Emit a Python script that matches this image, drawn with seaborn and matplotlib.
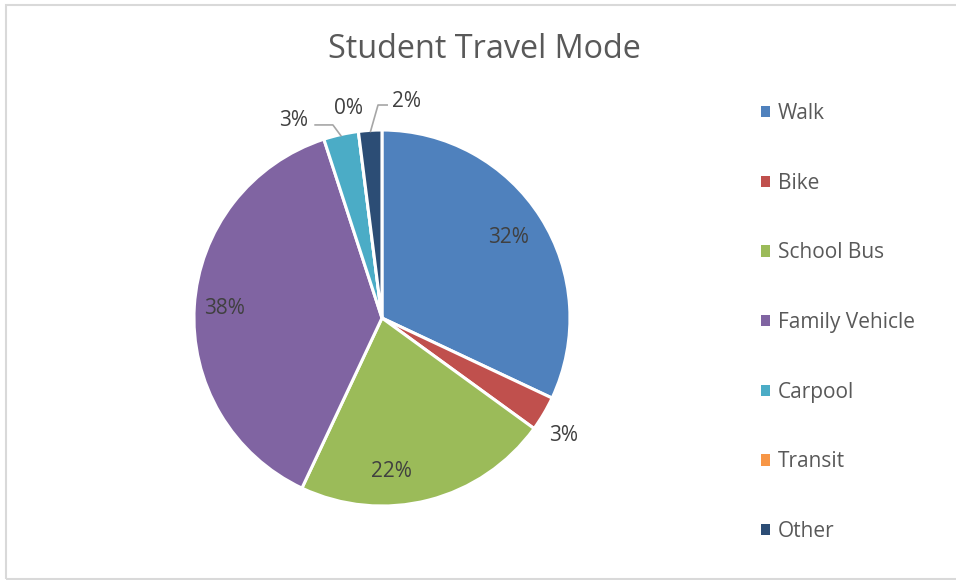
import matplotlib
matplotlib.use("Agg")
import matplotlib.pyplot as plt
import seaborn as sns
import numpy as np
from matplotlib.patches import Rectangle

categories = ["Walk", "Bike", "School Bus", "Family Vehicle", "Carpool", "Transit", "Other"]
values = [32, 3, 22, 38, 3, 0, 2]
pct_labels = ["32%", "3%", "22%", "38%", "3%", "0%", "2%"]
colors = ["#4F81BD", "#C0504D", "#9BBB59", "#8064A2", "#4BACC6", "#F79646", "#2C4D75"]

sns.set_theme(style="white")
plt.rcParams["font.family"] = ["Open Sans", "DejaVu Sans"]

fig = plt.figure(figsize=(9.56, 5.8), dpi=100)
ax = fig.add_axes([0.1439, 0.0303, 0.5113, 0.8428])
wedges, _ = ax.pie(values, colors=sns.color_palette(colors), startangle=90, counterclock=False,
                   radius=1.0, wedgeprops=dict(edgecolor="white", linewidth=2.2))
ax.set_xlim(-1.3, 1.3)
ax.set_ylim(-1.3, 1.3)
ax.set_aspect("equal")
ax.axis("off")

# label placement: (radius, angle offset deg)
label_style = [(0.80, 0.0), (1.15, -2.3), (0.82, -11.0), (0.84, 0.0),
               (1.15, 11.5), (1.13, 1.9), (1.16, -10.1)]
txtc = "#404040"
for w, lab, (r, off) in zip(wedges, pct_labels, label_style):
    mid = np.deg2rad((w.theta1 + w.theta2) / 2 + off)
    x, y = r * np.cos(mid), r * np.sin(mid)
    ax.text(x, y, lab, ha="center", va="center", fontsize=15, color=txtc)

def leader(w, start, knee):
    m = np.deg2rad((w.theta1 + w.theta2) / 2)
    ex, ey = 0.99 * np.cos(m), 0.99 * np.sin(m)
    ax.plot([start[0], knee[0], ex], [start[1], knee[1], ey], color="#A6A6A6", lw=1.2,
            clip_on=False, solid_capstyle="butt")

leader(wedges[4], (-0.36, 1.027), (-0.261, 1.027))
leader(wedges[6], (0.032, 1.133), (-0.021, 1.133))

fig.text(0.507, 0.915, "Student Travel Mode", ha="center", va="center", fontsize=23.3, color="#595959")

leg = fig.legend(wedges, categories, loc="upper left", bbox_to_anchor=(0.787, 0.8365),
                 frameon=False, fontsize=15, labelcolor="#595959", handlelength=0.45,
                 handleheight=0.45, handletextpad=0.38, labelspacing=2.335, borderaxespad=0)
for h in leg.legend_handles:
    h.set_edgecolor("none")

fig.add_artist(Rectangle((5.5 / 956, 1.5 / 580), 1.2, 1 - 6.5 / 580, transform=fig.transFigure,
                         fill=False, edgecolor="#D9D9D9", lw=1.5))
fig.savefig("out.png", dpi=100)
